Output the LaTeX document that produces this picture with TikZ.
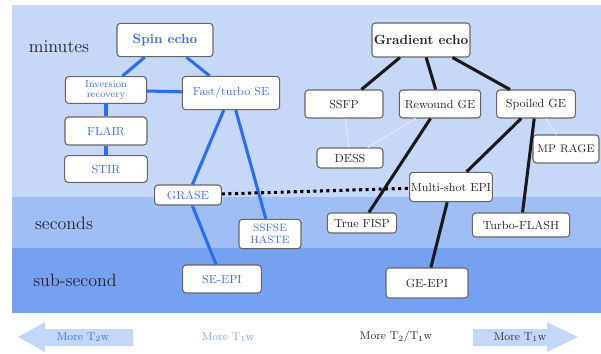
\documentclass[tikz,border=0pt]{standalone}
\usetikzlibrary{arrows.meta}

\begin{document}
\begin{tikzpicture}[x=0.75pt, y=-0.75pt,
  seqbox/.style={draw=black!60, fill=white, rounded corners=2.5pt, line width=0.8pt,
                 inner sep=0pt, align=center, font=\rmfamily\fontsize{8.8}{9.5}\selectfont},
  seFam/.style={seqbox, text=seText},
  geFam/.style={seqbox, text=black!85},
  seLink/.style={draw=seLine, line width=2.3pt},
  geLink/.style={draw=black!90, line width=2.3pt},
  paleLink/.style={draw=white!88!blue, line width=1.2pt},
  timeLabel/.style={font=\rmfamily\fontsize{13.5}{14}\selectfont, text=black!85},
  axisLabel/.style={font=\rmfamily\fontsize{8.5}{9}\selectfont}]
  \definecolor{bandTop}{RGB}{199,215,247}
  \definecolor{bandMid}{RGB}{158,190,245}
  \definecolor{bandLow}{RGB}{118,160,240}
  \definecolor{seLine}{RGB}{38,110,246}
  \definecolor{seText}{RGB}{62,112,232}
  \definecolor{arrowFill}{RGB}{196,214,250}

  \useasboundingbox (0,0) rectangle (601,354);

  %--- Time bands ---
  \fill[bandTop] (12,5)   rectangle (601,197);
  \fill[bandMid] (12,197) rectangle (601,248);
  \fill[bandLow] (12,248) rectangle (601,313);
  \node[timeLabel] (minutes) at (59,47)  {minutes};
  \node[timeLabel] (seconds) at (64,223) {seconds};
  \node[timeLabel] (subsec)  at (75,280) {sub-second};

  %--- Spin echo family ---
  \node[seFam, minimum width=72pt, minimum height=25pt, font=\rmfamily\fontsize{10}{11}\selectfont\bfseries]
       (spin) at (165,40) {Spin echo};
  \node[seFam, minimum width=61pt, minimum height=20pt, font=\rmfamily\fontsize{7.5}{8}\selectfont]
       (inv) at (106,90) {Inversion\\recovery};
  \node[seFam, minimum width=73pt, minimum height=25pt] (fast)  at (231,93)  {Fast/turbo SE};
  \node[seFam, minimum width=61.5pt, minimum height=21pt] (flair) at (106,131) {FLAIR};
  \node[seFam, minimum width=62pt, minimum height=20pt] (stir)  at (106,169) {STIR};
  \node[seFam, minimum width=50pt, minimum height=15pt] (grase) at (188,195) {GRASE};
  \node[seFam, minimum width=46.5pt, minimum height=22pt, font=\rmfamily\fontsize{8}{8.8}\selectfont]
       (ssfse) at (270,234) {SSFSE\\HASTE};
  \node[seFam, minimum width=59pt, minimum height=21pt] (seepi) at (222,279) {SE-EPI};

  %--- Gradient echo family ---
  \node[geFam, minimum width=73.5pt, minimum height=25.5pt, font=\rmfamily\fontsize{10}{11}\selectfont\bfseries]
       (grad) at (421,40) {Gradient echo};
  \node[geFam, minimum width=58.5pt, minimum height=21pt] (ssfp)    at (344,104) {SSFP};
  \node[geFam, minimum width=61pt,   minimum height=21pt] (rewound) at (440,104) {Rewound GE};
  \node[geFam, minimum width=59pt,   minimum height=21pt] (spoiled) at (536,104) {Spoiled GE};
  \node[geFam, minimum width=49.5pt, minimum height=15pt] (dess)    at (350,158) {DESS};
  \node[geFam, minimum width=49.5pt, minimum height=21pt, font=\rmfamily\fontsize{8.3}{9}\selectfont]
       (mprage)  at (566,149) {MP RAGE};
  \node[geFam, minimum width=62pt,   minimum height=22pt] (multi)   at (451,187) {Multi-shot EPI};
  \node[geFam, minimum width=52pt,   minimum height=15pt] (fisp)    at (362,223) {True FISP};
  \node[geFam, minimum width=73pt,   minimum height=18pt] (turbo)   at (521,225) {Turbo-FLASH};
  \node[geFam, minimum width=61.5pt, minimum height=22.5pt] (geepi) at (427,283) {GE-EPI};

  %--- Spin echo links ---
  \draw[seLink] (spin) -- (inv);
  \draw[seLink] (spin) -- (fast);
  \draw[seLink] (inv) -- (fast);
  \draw[seLink] (inv) -- (flair);
  \draw[seLink] (flair) -- (stir);
  \draw[seLink] (fast) -- (grase);
  \draw[seLink] (fast) -- (ssfse);
  \draw[seLink] (grase) -- (seepi);

  %--- Gradient echo links ---
  \draw[geLink] (grad) -- (ssfp);
  \draw[geLink] (grad) -- (rewound);
  \draw[geLink] (grad) -- (spoiled);
  \draw[geLink] (rewound) -- (fisp);
  \draw[geLink] (spoiled) -- (multi);
  \draw[geLink] (spoiled) -- (turbo);
  \draw[geLink] (multi) -- (geepi);
  \draw[paleLink] (ssfp) -- (dess);
  \draw[paleLink] (rewound) -- (dess);
  \draw[paleLink] (spoiled) -- (mprage);

  %--- GRASE / multi-shot EPI hybrid ---
  \draw[black, line width=2.3pt, dash pattern=on 2.3pt off 2.6pt] (grase) -- (multi);

  %--- Contrast axis ---
  \fill[arrowFill] (18,337) -- (45,322) -- (45,329) -- (133,329)
                   -- (133,346) -- (45,346) -- (45,352) -- cycle;
  \fill[arrowFill] (578,337) -- (547,322) -- (547,329) -- (473,329)
                   -- (473,346) -- (547,346) -- (547,352) -- cycle;
  \node[axisLabel, text=seText]    (leftAx)  at (83,337)  {More T$_2$w};
  \node[axisLabel, text=seLine!60] (midAx)   at (228,337) {More T$_1$w};
  \node[axisLabel, text=black!85]  (mixAx)   at (396,337) {More T$_2$/T$_1$w};
  \node[axisLabel, text=black!80]  (rightAx) at (520,337) {More T$_1$w};

\end{tikzpicture}
\end{document}
